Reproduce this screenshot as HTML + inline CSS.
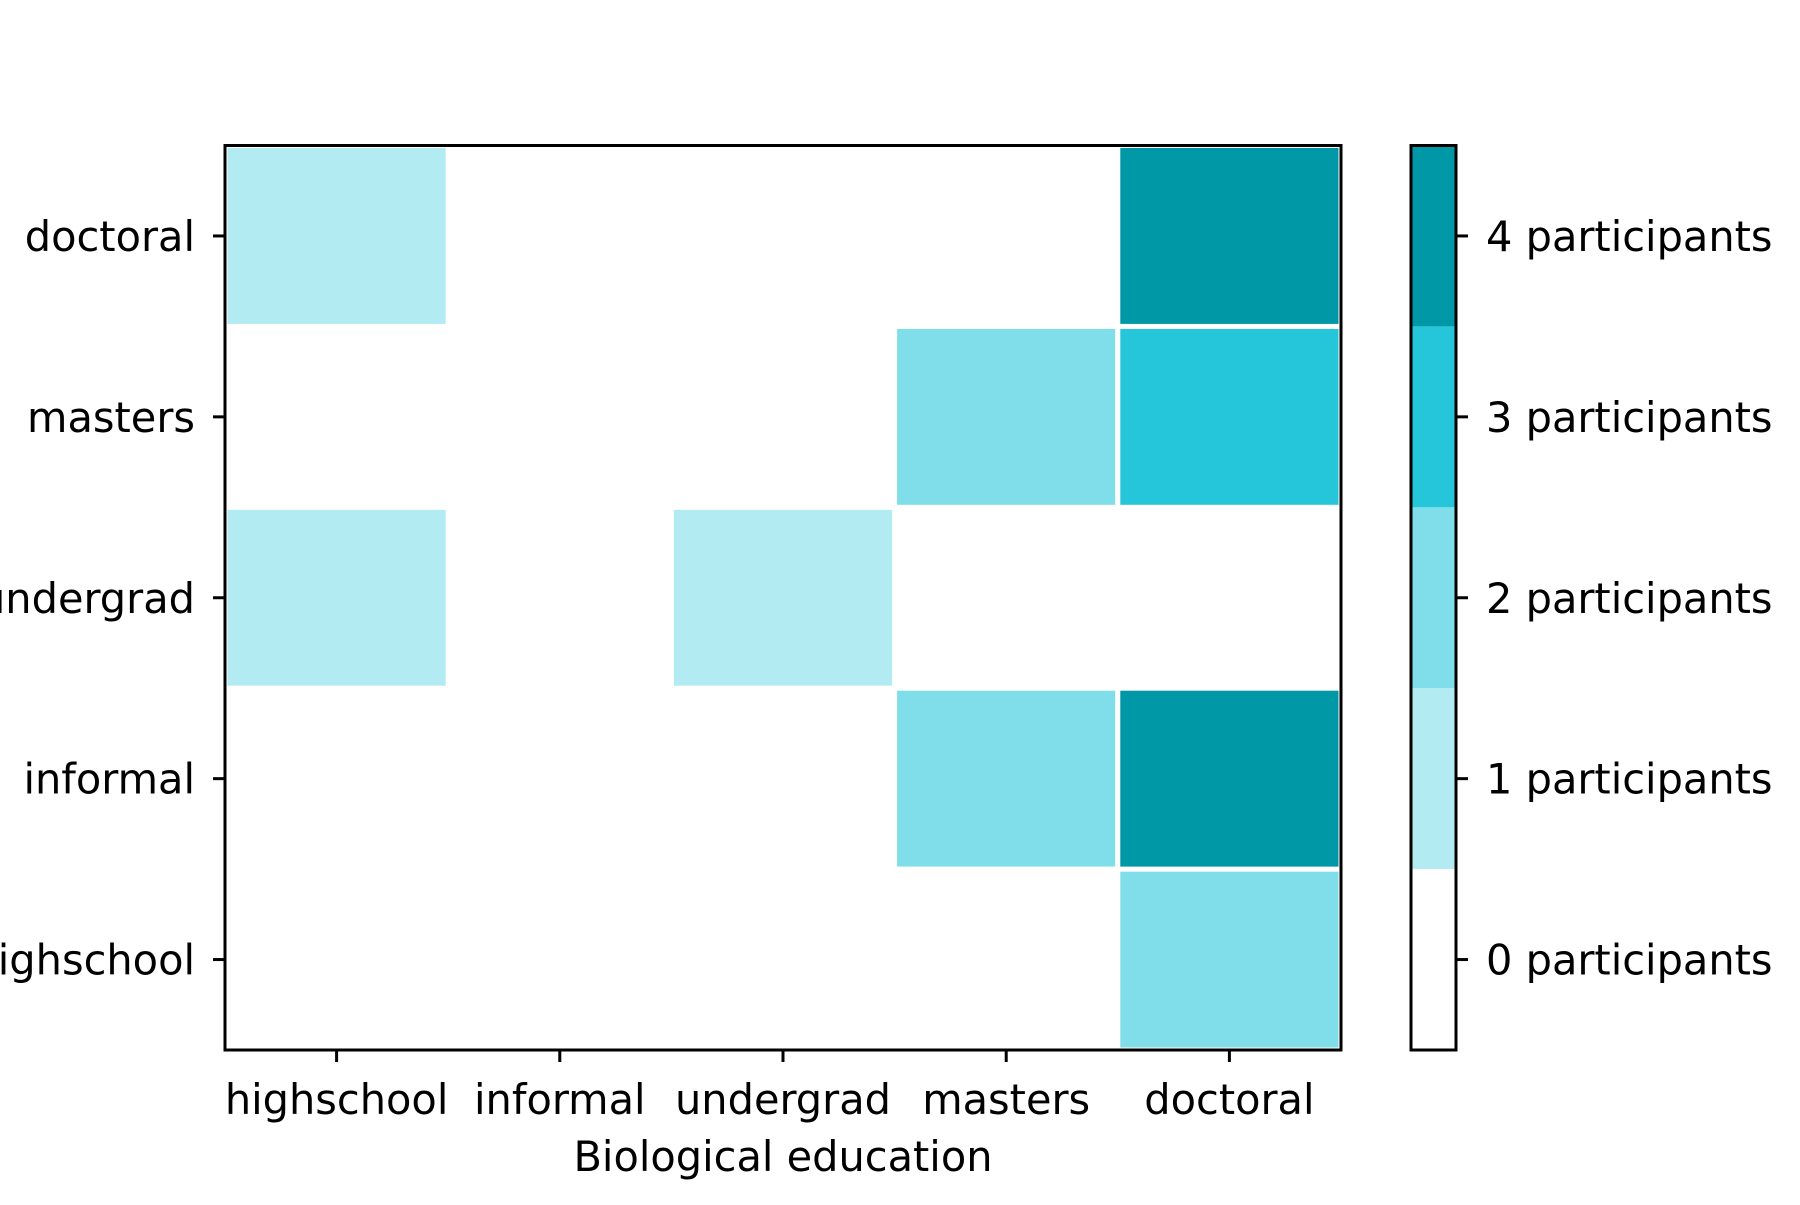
<!DOCTYPE html>
<html><head><meta charset="utf-8"><style>
html,body{margin:0;padding:0;background:#fff;}
svg text{font-family:"DejaVu Sans","Liberation Sans",sans-serif;font-size:41.5px;fill:#000;}
</style></head><body>
<svg id="chart" width="1800" height="1200" viewBox="0 0 1800 1200" xmlns="http://www.w3.org/2000/svg">
<g id="cells"></g>
<g id="axes"></g>
<g id="cbar"></g>
</svg>
<script>
const xCategories = ["highschool","informal","undergrad","masters","doctoral"];
const yCategories = ["highschool","informal","undergrad","masters","doctoral"];
// values[row][col], row index = yCategories index
const rowHighschool = [0,0,0,0,2];
const rowInformal   = [0,0,0,2,4];
const rowUndergrad  = [1,0,1,0,0];
const rowMasters    = [0,0,0,2,3];
const rowDoctoral   = [1,0,0,0,4];
const values = [rowHighschool,rowInformal,rowUndergrad,rowMasters,rowDoctoral];
const levels = [0,1,2,3,4];
const levelLabels = ["0 participants","1 participants","2 participants","3 participants","4 participants"];
const levelColors = ["#ffffff","#b2ebf2","#80deea","#26c6da","#0097a7"];

const NS="http://www.w3.org/2000/svg";
const L=225,R=1341,T=145.5,B=1050;
const cw=(R-L)/xCategories.length, ch=(B-T)/yCategories.length;
const xPos=i=>L+cw*(i+0.5);
const yPos=j=>B-ch*(j+0.5);
function mk(tag,attrs,parent){const e=document.createElementNS(NS,tag);for(const k in attrs)e.setAttribute(k,attrs[k]);parent.appendChild(e);return e;}
const cells=document.getElementById('cells'),axes=document.getElementById('axes'),cbar=document.getElementById('cbar');
values.forEach((row,j)=>row.forEach((v,i)=>{
  if(v<=0)return;
  const r=mk('rect',{x:xPos(i)-cw/2,y:yPos(j)-ch/2,width:cw,height:ch,fill:levelColors[v],stroke:'#fff','stroke-width':5},cells);
  
  
}));
const frame=mk('rect',{x:L,y:T,width:R-L,height:B-T,fill:'none',stroke:'#000','stroke-width':3},axes);


xCategories.forEach((c,i)=>{
  mk('line',{x1:xPos(i),x2:xPos(i),y1:B,y2:B+12,stroke:'#000','stroke-width':3},axes);
  const t=mk('text',{x:xPos(i),y:1114,'text-anchor':'middle'},axes);t.textContent=c;
  
  
});
yCategories.forEach((c,j)=>{
  mk('line',{x1:L-12,x2:L,y1:yPos(j),y2:yPos(j),stroke:'#000','stroke-width':3},axes);
  const t=mk('text',{x:L-30,y:yPos(j)+15,'text-anchor':'end'},axes);t.textContent=c;
  
  
});
const xl=mk('text',{x:(L+R)/2,y:1171,'text-anchor':'middle'},axes);xl.textContent="Biological education";


const CL=1411,CR=1456,lh=(B-T)/levels.length;
levels.forEach((lv,k)=>{
  const y0=B-lh*(k+1);
  const r=mk('rect',{x:CL,y:y0,width:CR-CL,height:lh,fill:levelColors[lv]},cbar);
  
  
  mk('line',{x1:CR,x2:CR+12,y1:y0+lh/2,y2:y0+lh/2,stroke:'#000','stroke-width':3},cbar);
  const t=mk('text',{x:1486,y:y0+lh/2+15},cbar);t.textContent=levelLabels[k];
  
  
});
mk('rect',{x:CL,y:T,width:CR-CL,height:B-T,fill:'none',stroke:'#000','stroke-width':3},cbar);
</script>
</body></html>
